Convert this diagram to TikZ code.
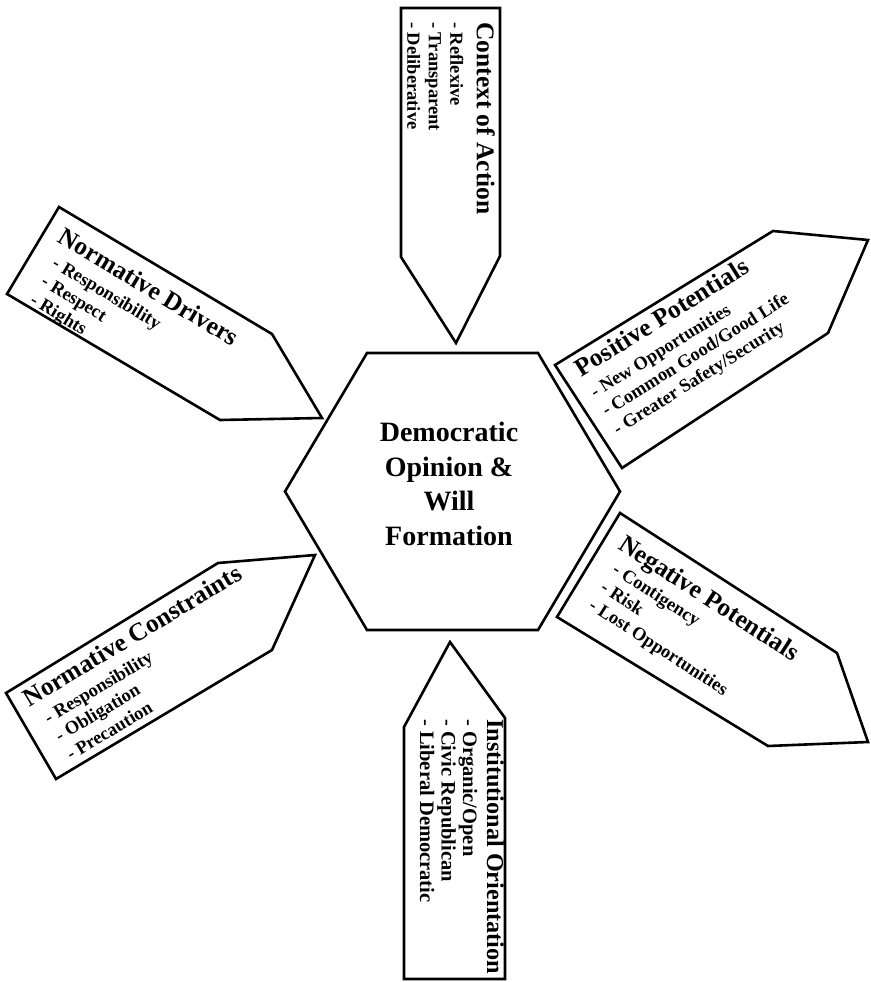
\documentclass[tikz,border=0pt]{standalone}
\usepackage{fontspec}
\setmainfont{Liberation Serif}
\tikzset{
    pointerbox/.style={draw=black, line width=2.6pt, line join=miter, fill=white},
    hubblock/.style={draw=black, line width=2.6pt, line join=miter},
    boxtext/.style={anchor=north west, align=left, inner sep=0pt, font=\bfseries\fontsize{18.5}{21.5}\selectfont},
    hubtext/.style={align=center, inner sep=0pt, font=\bfseries\fontsize{28}{34.5}\selectfont}
}
\newcommand{\boxtitle}[1]{{\fontsize{25.5}{28}\selectfont #1}}
\newcommand{\ind}{\hspace*{8pt}}

\begin{document}
\begin{tikzpicture}[x=1pt, y=-1pt]
    \useasboundingbox (0,0) rectangle (870,982);
    \draw [hubblock] (285,491.5) -- (367,353) -- (538,353) -- (620,491.5) -- (538,630) -- (367,630) -- cycle;
    \node (hub) [hubtext] at (449,484) {Democratic\\Opinion \&\\Will\\Formation};

    \draw [pointerbox] (401,8) -- (500,8) -- (500,256) -- (456,343) -- (401,257) -- cycle;
    \node (context) [boxtext, rotate=-90] at (495,22) {\boxtitle{Context of Action}\\[5pt] - Reflexive\\ - Transparent\\ - Deliberative};

    \draw [pointerbox] (59,207) -- (272,334) -- (322,418) -- (220,420) -- (7,294) -- cycle;
    \node (drivers) [boxtext, rotate=-31] at (66,226) {\boxtitle{Normative Drivers}\\[3pt] \ind- Responsibility\\ \ind- Respect\\ \ind- Rights};

    \draw [pointerbox] (555,365) -- (773,231) -- (868,240) -- (828,333) -- (622,468) -- cycle;
    \node (positive) [boxtext, rotate=32] at (572,362) {\boxtitle{Positive Potentials}\\[4pt] - New Opportunities\\ - Common Good/Good Life\\ - Greater Safety/Security};

    \draw [pointerbox] (620,513) -- (837,653) -- (868,742) -- (768,746) -- (557,617) -- cycle;
    \node (negative) [boxtext, rotate=-33] at (627,533) {\boxtitle{Negative Potentials}\\[2pt] \ind- Contigency\\ \ind- Risk\\ \ind- Lost Opportunities};

    \draw [pointerbox] (6,693) -- (218,563) -- (315,555) -- (272,650) -- (56,779) -- cycle;
    \node (constraints) [boxtext, rotate=31] at (20,692) {\boxtitle{Normative Constraints}\\[3pt] \ind- Responsibility\\ \ind- Obligation\\ \ind- Precaution};

    \draw [pointerbox] (404,979) -- (505,979) -- (505,718) -- (450,642) -- (404,727) -- cycle;
    \node (institutional) [boxtext, rotate=-90, font=\bfseries\fontsize{20.5}{21.5}\selectfont] at (504,719) {{\fontsize{24.2}{28}\selectfont Institutional Orientation}\\[2.5pt] - Organic/Open\\ - Civic Republican\\ - Liberal Democratic};
\end{tikzpicture}
\end{document}
